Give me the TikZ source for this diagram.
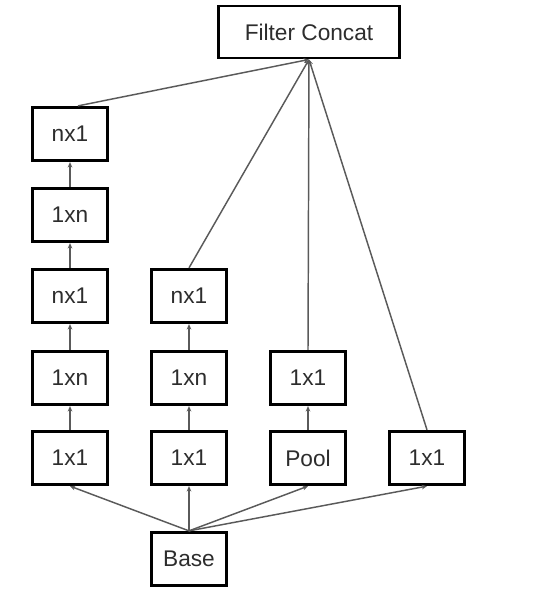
\documentclass[tikz,border=0pt]{standalone}
\usepackage{fontspec}
\setmainfont{Liberation Sans}
\usetikzlibrary{arrows.meta}
\definecolor{wire}{RGB}{90,90,90}
\definecolor{ink}{RGB}{45,45,45}

\begin{document}
\begin{tikzpicture}[x=0.75pt, y=-0.75pt,
  every node/.style={font=\fontsize{17}{20}\selectfont, text=ink},
  blk/.style={draw=black, line width=2.2pt, minimum width=56pt, minimum height=40pt, inner sep=0pt, fill=white},
  cat/.style={blk, minimum width=136pt, minimum height=39pt},
  arr/.style={-{Stealth[length=4pt,width=3.5pt]}, draw=wire, line width=1.1pt}]
\useasboundingbox (0,0) rectangle (539,600);
\node[cat] (fc) at (309,32) {Filter Concat};
% first tower
\node[blk] (a1) at (70,458) {1x1};
\node[blk] (a2) at (70,378) {1xn};
\node[blk] (a3) at (70,296) {nx1};
\node[blk] (a4) at (70,215) {1xn};
\node[blk] (a5) at (70,134) {nx1};
% second tower
\node[blk] (b1) at (189,458) {1x1};
\node[blk] (b2) at (189,378) {1xn};
\node[blk] (b3) at (189,296) {nx1};
% pooling branch
\node[blk] (pool) at (308,458) {Pool};
\node[blk] (p1) at (308,378) {1x1};
% single 1x1
\node[blk] (d1) at (427,458) {1x1};
\node[blk] (base) at (189,559) {Base};
% base to branches
\draw[arr] (base.north) -- (a1.south);
\draw[arr] (base.north) -- (b1.south);
\draw[arr] (base.north) -- (pool.south);
\draw[arr] (base.north) -- (d1.south);
% inside the towers
\draw[arr] (a1) -- (a2);
\draw[arr] (a2) -- (a3);
\draw[arr] (a3) -- (a4);
\draw[arr] (a4) -- (a5);
\draw[arr] (b1) -- (b2);
\draw[arr] (b2) -- (b3);
\draw[arr] (pool) -- (p1);
% into the concat
\draw[arr] ([xshift=6pt]a5.north) -- (fc.south);
\draw[arr] (b3.north) -- (fc.south);
\draw[arr] (p1.north) -- (fc.south);
\draw[arr] (d1.north) -- (fc.south);
\end{tikzpicture}
\end{document}
